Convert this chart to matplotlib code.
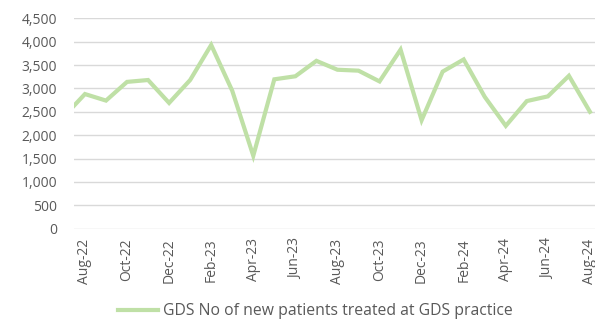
import matplotlib
matplotlib.use("Agg")
import matplotlib.pyplot as plt
from matplotlib.ticker import FuncFormatter, MultipleLocator
import numpy as np

# Monthly counts, Jul-22 .. Aug-24 (Jul-22 sits just left of the visible range)
months = ["Jul-22", "Aug-22", "Sep-22", "Oct-22", "Nov-22", "Dec-22", "Jan-23",
          "Feb-23", "Mar-23", "Apr-23", "May-23", "Jun-23", "Jul-23", "Aug-23",
          "Sep-23", "Oct-23", "Nov-23", "Dec-23", "Jan-24", "Feb-24", "Mar-24",
          "Apr-24", "May-24", "Jun-24", "Jul-24", "Aug-24"]
new_patients = [2400, 2880, 2740, 3140, 3180, 2690, 3180,
                3930, 2950, 1560, 3195, 3260, 3590, 3400,
                3380, 3150, 3830, 2320, 3360, 3620, 2820,
                2200, 2730, 2830, 3270, 2500]
series_label = "GDS No of new patients treated at GDS practice"

plt.rcParams["font.family"] = ["Open Sans", "DejaVu Sans"]
TEXT = "#595959"
GRID = "#d9d9d9"
LINE = "#bfe0a6"

fig = plt.figure(figsize=(5.95, 3.21), dpi=100)
ax = fig.add_axes([74 / 595, 1 - 228.7 / 321, 1 - 74 / 595, (228.7 - 18.3) / 321])

# position 0 = Aug-22
x = np.arange(len(months)) - 1
ax.plot(x, new_patients, color=LINE, lw=3.0, solid_joinstyle="miter",
        label=series_label, clip_on=True)

ax.set_xlim(-0.52, 24.24)
ax.set_ylim(0, 4500)
ax.yaxis.set_major_locator(MultipleLocator(500))
ax.yaxis.set_major_formatter(FuncFormatter(lambda v, _: f"{int(v):,}"))

tick_pos = x[1::2]
ax.set_xticks(tick_pos)
ax.set_xticklabels(months[1::2], rotation=90)

ax.grid(axis="y", color=GRID, lw=1.0)
ax.set_axisbelow(True)
for side in ("top", "right", "left", "bottom"):
    ax.spines[side].set_visible(False)

ax.tick_params(axis="y", length=0, pad=12, labelsize=10, labelcolor=TEXT)
ax.tick_params(axis="x", length=0, pad=7, labelsize=10, labelcolor=TEXT)

fig.legend(loc="center", bbox_to_anchor=(315 / 595, 1 - 311 / 321),
           frameon=False, fontsize=11.3, labelcolor=TEXT,
           handlelength=2.55, handletextpad=0.32)

fig.savefig("out.png", dpi=100)
